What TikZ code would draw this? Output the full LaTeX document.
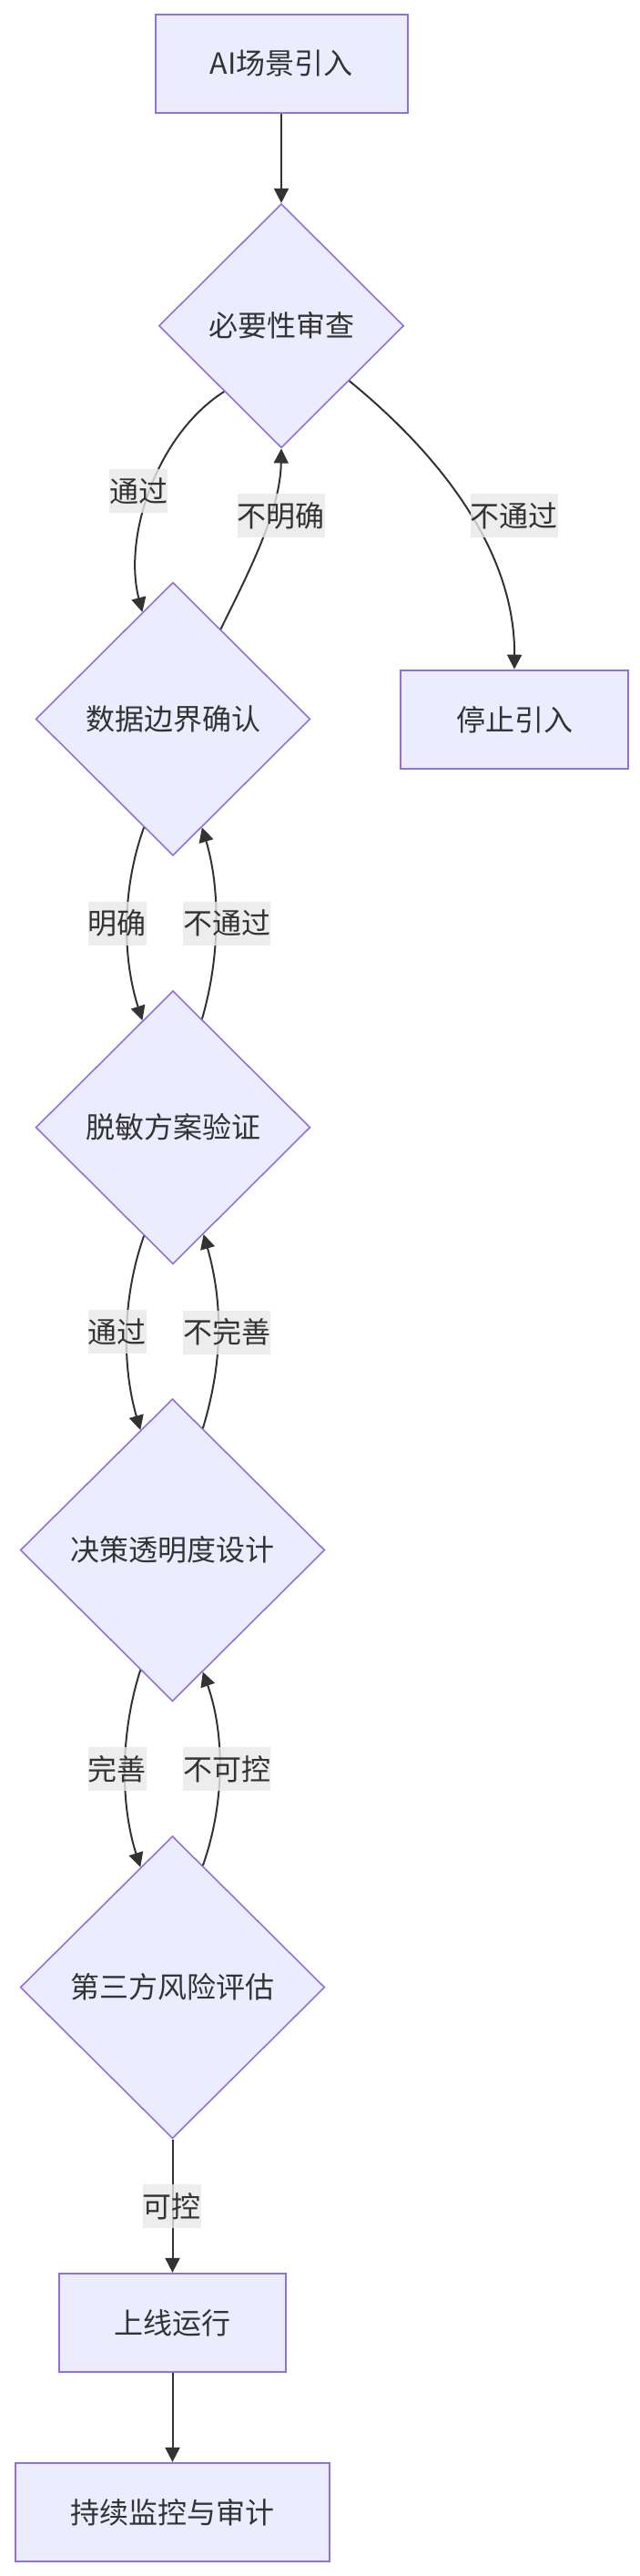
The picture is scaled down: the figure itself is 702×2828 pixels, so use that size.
\documentclass[tikz,border=0pt]{standalone}
\usepackage{fontspec}
\newfontfamily\cjk{Noto Sans CJK SC}
\usetikzlibrary{shapes.geometric,arrows.meta}
\definecolor{nodefill}{HTML}{ECECFF}
\definecolor{nodeline}{HTML}{9370DB}
\definecolor{edgecol}{HTML}{333333}
\definecolor{textcol}{HTML}{333333}
\definecolor{lblbg}{HTML}{E8E8E8}
\begin{document}
\begin{tikzpicture}[x=1pt,y=1pt,
  font=\cjk\fontsize{32}{38}\selectfont, text=textcol,
  box/.style={rectangle, draw=nodeline, fill=nodefill, line width=2pt, inner sep=0pt},
  dec/.style={diamond, aspect=1, draw=nodeline, fill=nodefill, line width=1.6pt, inner sep=0pt},
  lbl/.style={fill=lblbg, fill opacity=0.8, text opacity=1, inner sep=0pt, minimum height=48pt},
  edge/.style={draw=edgecol, line width=2pt, -{Triangle[length=16pt,width=16pt]}}]
\useasboundingbox (0,0) rectangle (702,-2828);

\node[box, minimum width=277pt, minimum height=108pt] (start) at (309,-70) {AI场景引入};
\node[dec, minimum width=269pt, minimum height=268pt] (nec) at (309,-357.7) {必要性审查};
\node[dec, minimum width=301.5pt, minimum height=300pt] (bound) at (190,-789.3) {数据边界确认};
\node[box, minimum width=250pt, minimum height=108.6pt] (stop) at (565,-790) {停止引入};
\node[dec, minimum width=301.5pt, minimum height=300pt] (desens) at (190,-1237.7) {脱敏方案验证};
\node[dec, minimum width=334.4pt, minimum height=332pt] (transp) at (189.5,-1701.7) {决策透明度设计};
\node[dec, minimum width=334.4pt, minimum height=332pt] (risk) at (189.5,-2181.7) {第三方风险评估};
\node[box, minimum width=249.3pt, minimum height=108.3pt] (online) at (189.5,-2550) {上线运行};
\node[box, minimum width=345.6pt, minimum height=108.3pt] (audit) at (189.5,-2758) {持续监控与审计};

\draw[edge] (start) -- (nec);
\draw[edge] (nec.-131.7) .. controls (171.7,-477.3) and (135,-590) .. (bound.106.6);
\draw[edge] (bound.62.4) .. controls (275,-625) and (308,-560) .. (nec.south);
\draw[edge] (nec.-39.2) .. controls (490,-505) and (566,-610) .. (stop.north);
\draw[edge] (bound.-105.7) .. controls (134,-975) and (134,-1050) .. (desens.106.4);
\draw[edge] (desens.75.7) .. controls (242,-1050) and (242,-975) .. (bound.-75.6);
\draw[edge] (desens.-105.7) .. controls (134,-1425) and (134,-1500) .. (transp.105.4);
\draw[edge] (transp.76.2) .. controls (245,-1495) and (245,-1430) .. (desens.-74.8);
\draw[edge] (transp.-105.4) .. controls (132,-1903) and (132,-1980) .. (risk.105.4);
\draw[edge] (risk.76.2) .. controls (247,-1980) and (247,-1903) .. (transp.-76.2);
\draw[edge] (risk.south) -- (online.north);
\draw[edge] (online) -- (audit);

\node[lbl] (l1) at (152,-539) {通过};
\node[lbl] (l2) at (308.7,-566) {不明确};
\node[lbl] (l3) at (564.8,-566) {不通过};
\node[lbl] (l4) at (128.5,-1013.8) {明确};
\node[lbl] (l5) at (249.3,-1013.8) {不通过};
\node[lbl] (l6) at (128.5,-1462) {通过};
\node[lbl] (l7) at (249.3,-1462.5) {不完善};
\node[lbl] (l8) at (128.5,-1942) {完善};
\node[lbl] (l9) at (249.3,-1942) {不可控};
\node[lbl] (l10) at (188.8,-2422) {可控};
\end{tikzpicture}
\end{document}
